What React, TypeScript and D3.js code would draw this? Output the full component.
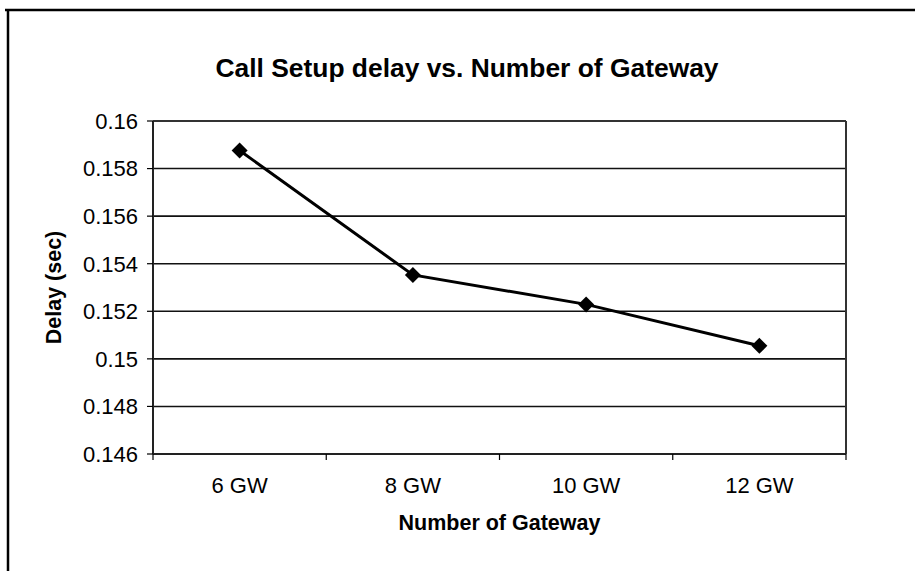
import React from 'react';
import * as d3 from 'd3';

// chart data
const categories = ['6 GW', '8 GW', '10 GW', '12 GW'];
const delayValues = [0.15876, 0.15353, 0.15229, 0.15055];
const yTicks = [0.146, 0.148, 0.15, 0.152, 0.154, 0.156, 0.158, 0.16];
const yTickLabels = ['0.146', '0.148', '0.15', '0.152', '0.154', '0.156', '0.158', '0.16'];

const chartTitle = 'Call Setup delay vs. Number of Gateway';
const xTitle = 'Number of Gateway';
const yTitle = 'Delay (sec)';

export default function App() {
  const width = 915;
  const height = 571;
  const left = 153;
  const right = 846;
  const top = 121;
  const bottom = 454;
  const font = 'Arial, "Liberation Sans", Helvetica, sans-serif';

  const x = d3.scaleBand<string>().domain(categories).range([left, right]).padding(0);
  const y = d3.scaleLinear().domain([0.146, 0.16]).range([bottom, top]);

  const cx = (c: string) => (x(c) ?? 0) + x.bandwidth() / 2;

  const line = d3
    .line<number>()
    .x((_, i) => cx(categories[i]))
    .y(d => y(d));

  const boundaries = [...categories.map(c => x(c) ?? 0), right];

  return (
    <svg
      width={width}
      height={height}
      style={{ position: 'absolute', left: 0, top: 0, display: 'block', background: '#fff' }}
      fontFamily={font}
    >
      <rect x={0} y={0} width={width} height={height} fill="#fff" />

      {/* outer frame, only top and left edges visible */}
      <line x1={5} y1={10} x2={width} y2={10} stroke="#000" strokeWidth={2.5} />
      <line x1={8} y1={9} x2={8} y2={height} stroke="#000" strokeWidth={2.5} />

      {/* title */}
      <text x={467} y={77} textAnchor="middle" fontSize={26.4} fontWeight="bold" fill="#000">
        {chartTitle}
      </text>

      {/* gridlines */}
      {yTicks.slice(1, -1).map(t => (
        <line key={t} x1={left} x2={right} y1={y(t)} y2={y(t)} stroke="#111" strokeWidth={1.6} />
      ))}

      {/* plot area border (top / right) */}
      <line x1={left} x2={right} y1={top} y2={top} stroke="#333" strokeWidth={2} />
      <line x1={right} x2={right} y1={top} y2={bottom} stroke="#333" strokeWidth={2} />

      {/* y axis */}
      <line x1={left} x2={left} y1={top} y2={bottom} stroke="#222" strokeWidth={2} />
      {yTicks.map((t, i) => (
        <g key={t}>
          <line x1={left - 6} x2={left} y1={y(t)} y2={y(t)} stroke="#000" strokeWidth={1.2} />
          <text x={left - 15} y={y(t)} dy="0.36em" textAnchor="end" fontSize={22} fill="#000">
            {yTickLabels[i]}
          </text>
        </g>
      ))}

      {/* x axis */}
      <line x1={left} x2={right} y1={bottom} y2={bottom} stroke="#222" strokeWidth={2} />
      {boundaries.map(b => (
        <line key={b} x1={b} x2={b} y1={bottom} y2={bottom + 6} stroke="#000" strokeWidth={1.2} />
      ))}
      {categories.map(c => (
        <text key={c} x={cx(c)} y={493} textAnchor="middle" fontSize={22} fill="#000">
          {c}
        </text>
      ))}

      {/* axis titles */}
      <text x={(left + right) / 2} y={530} textAnchor="middle" fontSize={21.5} fontWeight="bold" fill="#000">
        {xTitle}
      </text>
      <text
        transform={`translate(61, ${(top + bottom) / 2}) rotate(-90)`}
        textAnchor="middle"
        fontSize={21.5}
        fontWeight="bold"
        fill="#000"
      >
        {yTitle}
      </text>

      {/* series */}
      <path d={line(delayValues) ?? ''} fill="none" stroke="#000" strokeWidth={3} />
      {delayValues.map((v, i) => {
        const px = cx(categories[i]);
        const py = y(v);
        const r = 8;
        return (
          <path
            key={i}
            d={`M${px},${py - r}L${px + r},${py}L${px},${py + r}L${px - r},${py}Z`}
            fill="#000"
          />
        );
      })}
    </svg>
  );
}
